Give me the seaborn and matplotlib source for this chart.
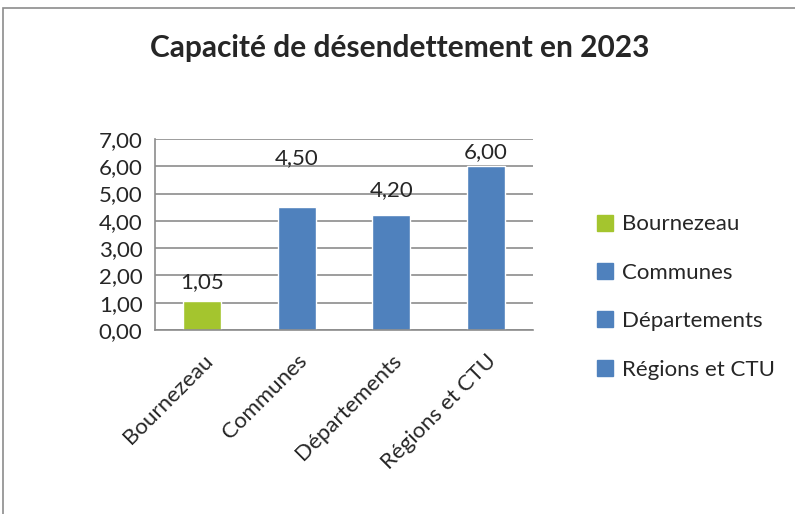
import matplotlib
matplotlib.use("Agg")
import matplotlib.pyplot as plt
import seaborn as sns
from matplotlib.patches import Rectangle
from matplotlib.lines import Line2D

categories = ["Bournezeau", "Communes", "Départements", "Régions et CTU"]
values = [1.05, 4.50, 4.20, 6.00]
bar_colors = ["#A4C52E", "#4F81BD", "#4F81BD", "#4F81BD"]
label_pad = [7, 28, 11, 3]  # label gap above each bar, points
yticks = [0, 1, 2, 3, 4, 5, 6, 7]

sns.set_style("white")
plt.rcParams["font.family"] = ["Lato", "DejaVu Sans"]

fig = plt.figure(figsize=(7.95, 5.14), dpi=100)
ax = fig.add_axes([155 / 795, 1 - 330 / 514, (533 - 155) / 795, (330 - 139) / 514])

sns.barplot(x=categories, y=values, hue=categories, palette=bar_colors,
            width=0.4, legend=False, saturation=1, ax=ax)

grid_col = "#8C8C8C"
fs = 16
ax.set_ylim(0, 7)
ax.set_xlim(-0.5, 3.5)
ax.set_yticks(yticks)
ax.set_yticklabels([f"{t:.2f}".replace(".", ",") for t in yticks], fontsize=fs)
ax.yaxis.grid(True, color=grid_col, linewidth=1.2)
ax.set_axisbelow(True)
for s in ["top", "right"]:
    ax.spines[s].set_visible(False)
for s in ["left", "bottom"]:
    ax.spines[s].set_color(grid_col)
    ax.spines[s].set_linewidth(1.2)
ax.tick_params(axis="y", length=6, width=1.2, color=grid_col, pad=3)

ax.set_xticks(range(len(categories)))
ax.set_xticklabels(categories, rotation=45, ha="right", rotation_mode="anchor", fontsize=fs)
ax.set_xticks([-0.5, 0.5, 1.5, 2.5, 3.5], minor=True)
ax.tick_params(axis="x", which="major", length=0, pad=15)
ax.tick_params(axis="x", which="minor", length=6, width=1.2, color=grid_col)
ax.set_xlabel("")
ax.set_ylabel("")

for i, v in enumerate(values):
    ax.annotate(f"{v:.2f}".replace(".", ","), (i, v), xytext=(0, label_pad[i]),
                textcoords="offset points", ha="center", va="bottom", fontsize=fs)

handles = [Line2D([], [], marker="s", linestyle="", markersize=11,
                  markerfacecolor=c, markeredgecolor=c) for c in bar_colors]
fig.legend(handles, categories, loc="center left", bbox_to_anchor=(574 / 795, 1 - 297 / 514),
           frameon=False, fontsize=fs, labelspacing=1.28, handletextpad=0.25,
           handlelength=1.0)

fig.text(0.503, 1 - 48 / 514, "Capacité de désendettement en 2023",
         ha="center", va="center", fontsize=21.5, fontweight="bold")

fig.patches.append(Rectangle((3 / 795, -0.1), 1.2, 1.1 - 8 / 514, transform=fig.transFigure,
                             fill=False, edgecolor="#8C8C8C", linewidth=1.2))

fig.savefig("out.png", dpi=100)
